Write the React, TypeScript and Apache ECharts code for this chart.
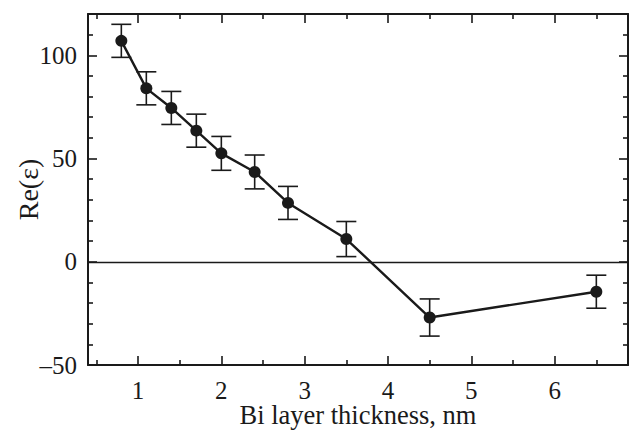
import React, { useEffect, useRef } from "react";
import * as echarts from "echarts";

const thickness = [0.8, 1.1, 1.4, 1.7, 2.0, 2.4, 2.8, 3.5, 4.5, 6.5];
const reEps = [107, 84, 74.5, 63.5, 52.5, 43.5, 28.5, 11, -27, -14.5];
const errBar = [8, 8, 8, 8, 8.2, 8.2, 8, 8.5, 9, 8];

const xMajorTicks = [1, 2, 3, 4, 5, 6];
const xMinorTicks = [0.5, 1.5, 2.5, 3.5, 4.5, 5.5, 6.5];
const yMajorTicks = [-50, 0, 50, 100];
const yMinorTicks = [-40, -30, -20, -10, 10, 20, 30, 40, 60, 70, 80, 90, 110];

const FONT = "Liberation Serif, DejaVu Serif, serif";
const INK = "#1a1a1a";

export default function App() {
  const ref = useRef<HTMLDivElement>(null);

  useEffect(() => {
    if (!ref.current) return;
    document.body.style.margin = "0";
    const chart = echarts.init(ref.current, null, { renderer: "svg" });

    const xRange = { min: 0.4, max: 6.88 };
    const yRange = { min: -50, max: 120 };

    const fmt = (v: number) => (v < 0 ? "\u2013" + Math.abs(v) : String(v));

    const mkX = (pos: "bottom" | "top", major: boolean, main: boolean) => ({
      type: "value",
      position: pos,
      ...xRange,
      axisLine: { show: main, onZero: false, lineStyle: { color: INK, width: 2 } },
      axisTick: {
        show: true,
        inside: true,
        length: major ? 9 : 5,
        customValues: major ? xMajorTicks : xMinorTicks,
        lineStyle: { color: INK, width: 1.6 },
      },
      axisLabel: {
        show: main && pos === "bottom",
        customValues: xMajorTicks,
        fontFamily: FONT,
        fontSize: 25,
        lineHeight: 20,
        color: INK,
        margin: 15,
      },
      splitLine: { show: false },
      name: main && pos === "bottom" ? "Bi layer thickness, nm" : "",
      nameLocation: "middle",
      nameGap: 40,
      nameMoveOverlap: false,
      nameTextStyle: { fontFamily: FONT, fontSize: 26.5, lineHeight: 20, color: INK },
    });

    const mkY = (pos: "left" | "right", major: boolean, main: boolean) => ({
      type: "value",
      position: pos,
      ...yRange,
      axisLine: { show: main, onZero: false, lineStyle: { color: INK, width: 2 } },
      axisTick: {
        show: true,
        inside: true,
        length: major ? 9 : 5,
        customValues: major ? yMajorTicks : yMinorTicks,
        lineStyle: { color: INK, width: 1.6 },
      },
      axisLabel: {
        show: main && pos === "left",
        customValues: yMajorTicks,
        formatter: fmt,
        fontFamily: FONT,
        fontSize: 25,
        color: INK,
        margin: 11,
      },
      splitLine: { show: false },
      name: main && pos === "left" ? "Re(\u03b5)" : "",
      nameLocation: "middle",
      nameGap: 46,
      nameMoveOverlap: false,
      nameTextStyle: { fontFamily: FONT, fontSize: 28, color: INK },
    });

    chart.setOption({
      animation: false,
      backgroundColor: "#ffffff",
      grid: { left: 88, top: 14, width: 540, height: 351, containLabel: false, outerBoundsMode: "none" },
      xAxis: [mkX("bottom", true, true), mkX("bottom", false, false), mkX("top", true, true), mkX("top", false, false)],
      yAxis: [mkY("left", true, true), mkY("left", false, false), mkY("right", true, true), mkY("right", false, false)],
      series: [
        {
          type: "custom",
          xAxisIndex: 0,
          yAxisIndex: 0,
          z: 3,
          data: thickness.map((x, i) => [x, reEps[i] - errBar[i], reEps[i] + errBar[i]]),
          encode: { x: 0, y: [1, 2] },
          renderItem: (params: any, api: any) => {
            const x = api.value(0);
            const lo = api.coord([x, api.value(1)]);
            const hi = api.coord([x, api.value(2)]);
            const w = 10;
            const style = { stroke: INK, lineWidth: 1.6 };
            return {
              type: "group",
              children: [
                { type: "line", shape: { x1: hi[0], y1: hi[1], x2: lo[0], y2: lo[1] }, style },
                { type: "line", shape: { x1: hi[0] - w, y1: hi[1], x2: hi[0] + w, y2: hi[1] }, style },
                { type: "line", shape: { x1: lo[0] - w, y1: lo[1], x2: lo[0] + w, y2: lo[1] }, style },
              ],
            };
          },
        },
        {
          type: "line",
          xAxisIndex: 0,
          yAxisIndex: 0,
          z: 4,
          data: thickness.map((x, i) => [x, reEps[i]]),
          symbol: "circle",
          symbolSize: 12,
          itemStyle: { color: INK },
          lineStyle: { color: INK, width: 2.4 },
          markLine: {
            silent: true,
            symbol: "none",
            label: { show: false },
            lineStyle: { color: INK, width: 1.3, type: "solid" },
            data: [{ yAxis: 0 }],
          },
        },
      ],
    });

    return () => chart.dispose();
  }, []);

  return <div ref={ref} style={{ position: "absolute", left: 0, top: 0, width: 632, height: 430 }} />;
}
